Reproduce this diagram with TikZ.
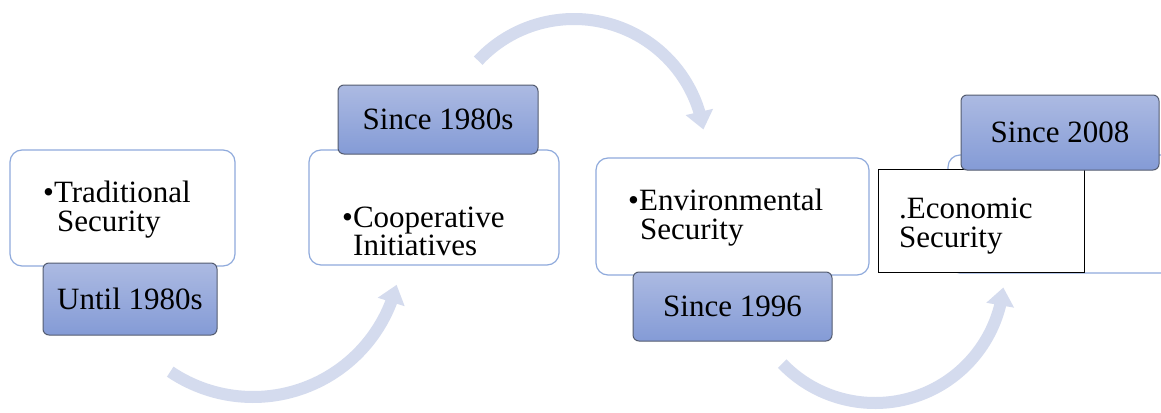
\documentclass[tikz,border=0pt]{standalone}
\usepackage{fontspec}
\setmainfont{Liberation Serif}
\usetikzlibrary{arrows.meta,bending}

\definecolor{panelline}{RGB}{143,170,220}
\definecolor{tagtop}{RGB}{172,186,226}
\definecolor{tagbot}{RGB}{132,155,214}
\definecolor{tagline}{RGB}{84,92,112}
\definecolor{flow}{RGB}{212,219,238}

\tikzset{
  panel/.style={draw=panelline, line width=1.2pt, fill=white, rounded corners=12pt,
    inner sep=0pt, outer sep=0pt, anchor=north west},
  tag/.style={draw=tagline, line width=1pt, top color=tagtop, bottom color=tagbot,
    rounded corners=6pt, inner sep=0pt, outer sep=0pt, anchor=north west,
    font=\fontsize{31}{31}\selectfont},
  plainbox/.style={draw=black, line width=1pt, fill=white, inner sep=0pt,
    outer sep=0pt, anchor=north west},
  itemtext/.style={font=\fontsize{31}{31}\selectfont, inner sep=0pt, anchor=base west},
  flowarrow/.style={draw=flow, line width=12pt, line cap=butt,
    -{Triangle[width=27pt,length=18pt]}}
}

\begin{document}
\begin{tikzpicture}[x=1pt,y=-1pt]
  \useasboundingbox (0,0) rectangle (1161,412);
  \clip (0,0) rectangle (1161,412);
  \fill[white] (0,0) rectangle (1161,412);

  % curved flow arrows between the stages
  \coordinate (c1) at (253,249);
  \coordinate (c2) at (574,150);
  \coordinate (c3) at (875,274);
  \draw[flowarrow] (c1) ++(124:148) arc[start angle=124, end angle=14, radius=148];
  \draw[flowarrow] (c2) ++(223:131) arc[start angle=223, end angle=351, radius=131];
  \draw[flowarrow] (c3) ++(136:129) arc[start angle=136, end angle=6, radius=129];

  % stage 1
  \node[panel, minimum width=225pt, minimum height=116pt] (p1) at (10,150) {};
  \node[tag, minimum width=174pt, minimum height=72pt] (t1) at (43,263) {Until 1980s};
  \node[itemtext] (l1a) at (43,202) {•Traditional};
  \node[itemtext] (l1b) at (57,231) {Security};

  % stage 2
  \node[panel, minimum width=250pt, minimum height=115pt] (p2) at (309,150) {};
  \node[tag, minimum width=200pt, minimum height=69pt] (t2) at (338,85) {Since 1980s};
  \node[itemtext] (l2a) at (342,227) {•Cooperative};
  \node[itemtext] (l2b) at (353,255) {Initiatives};

  % stage 3
  \node[panel, minimum width=273pt, minimum height=117pt] (p3) at (596,158) {};
  \node[tag, minimum width=199pt, minimum height=69pt] (t3) at (633,272) {Since 1996};
  \node[itemtext] (l3a) at (628,210) {•Environmental};
  \node[itemtext] (l3b) at (640,239) {Security};

  % stage 4
  \node[panel, minimum width=240pt, minimum height=118pt] (p4) at (948,155) {};
  \node[plainbox, minimum width=206pt, minimum height=103pt] (r4) at (878,169) {};
  \node[tag, minimum width=198pt, minimum height=75pt] (t4) at (961,95) {Since 2008};
  \node[itemtext] (l4a) at (899,218) {.Economic};
  \node[itemtext] (l4b) at (899,247) {Security};
\end{tikzpicture}
\end{document}
